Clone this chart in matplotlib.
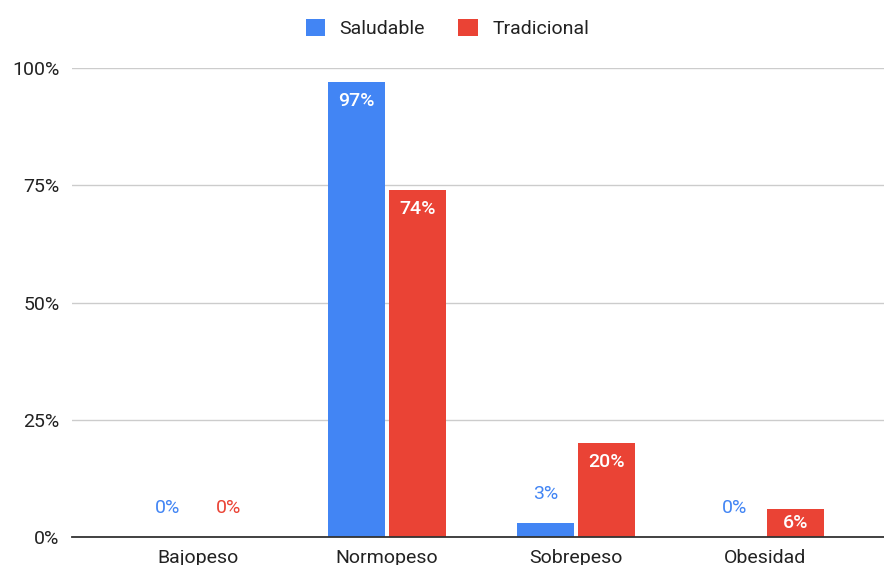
import numpy as np
import matplotlib.pyplot as plt
from matplotlib.patches import Patch

plt.rcParams['font.family'] = ['Roboto', 'DejaVu Sans']

categorias = ['Bajopeso', 'Normopeso', 'Sobrepeso', 'Obesidad']
saludable = [0, 97, 3, 0]
tradicional = [0, 74, 20, 6]
series = ['Saludable', 'Tradicional']
colores = ['#4285F4', '#EA4335']

fig = plt.figure(figsize=(8.84, 5.65), dpi=100)
ax = fig.add_axes([0.0814, 0.0496, 0.9186, 0.830])

x = np.arange(len(categorias))
ancho = 0.30
desplaz = 0.16
px = 72 / 100  # points per pixel
fs = 14

for valores, color, dx in zip([saludable, tradicional], colores, [-desplaz, desplaz]):
    ax.bar(x + dx, valores, width=ancho, color=color, zorder=3)
    for xi, v in zip(x + dx, valores):
        alto_px = v / 100 * 469
        if alto_px > 20:
            off = -min(19, alto_px / 2) * px
            ax.annotate(f'{v}%', (xi, v), xytext=(0, off), textcoords='offset points',
                        ha='center', va='center', color='white', fontsize=fs,
                        fontweight='medium', zorder=4)
        else:
            ax.annotate(f'{v}%', (xi, v), xytext=(0, 29 * px), textcoords='offset points',
                        ha='center', va='center', color=color, fontsize=fs, zorder=4)

ax.set_ylim(0, 100)
ax.set_xlim(-0.667, 3.63)
ax.set_yticks([0, 25, 50, 75, 100])
ax.set_yticklabels(['0%', '25%', '50%', '75%', '100%'])
ax.set_xticks(x)
ax.set_xticklabels(categorias)
ax.tick_params(axis='both', length=0, labelsize=fs, colors='#222222')
ax.tick_params(axis='y', pad=9)
ax.tick_params(axis='x', pad=8.5)
ax.yaxis.grid(True, color='#cccccc', linewidth=1, zorder=0)
for s in ['top', 'right', 'left']:
    ax.spines[s].set_visible(False)
ax.spines['bottom'].set_color('#333333')
ax.spines['bottom'].set_linewidth(1.3)
ax.spines['bottom'].set_zorder(5)

handles = [Patch(facecolor=c, label=s) for s, c in zip(series, colores)]
fig.legend(handles=handles, loc='center', bbox_to_anchor=(0.506, 0.950), ncol=2,
           frameon=False, fontsize=fs, handlelength=1.0, handleheight=1.0,
           handletextpad=0.75, columnspacing=1.7, labelcolor='#222222')

fig.savefig('out.png', dpi=100)
